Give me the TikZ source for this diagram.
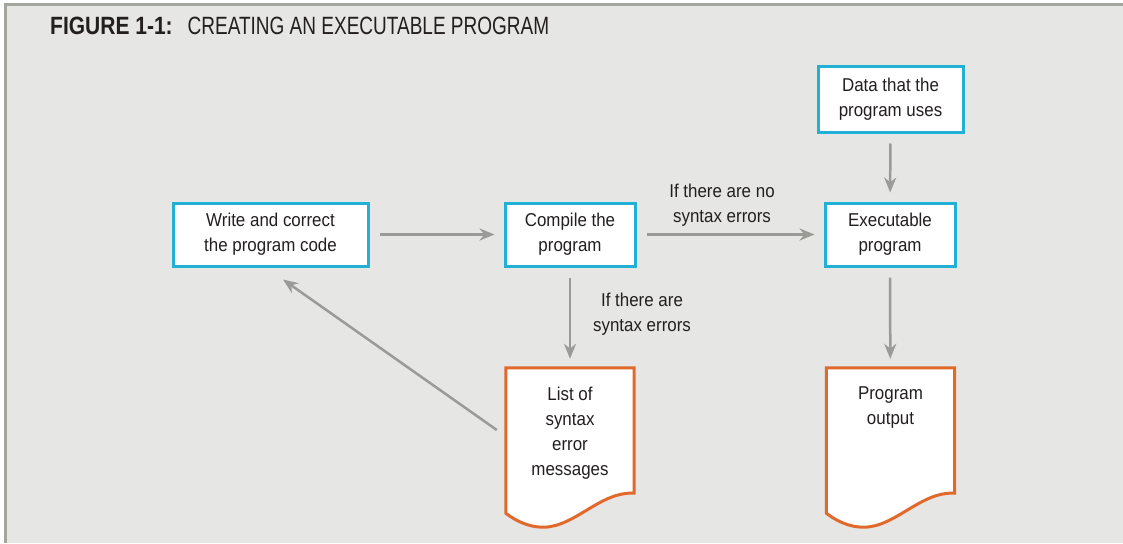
\documentclass[tikz,border=0pt]{standalone}
\usepackage{fontspec}
\setmainfont[FakeStretch=0.91]{Liberation Sans}
\newfontfamily\captionlight[FakeStretch=0.76]{Liberation Sans}
\newfontfamily\captionbold[FakeStretch=0.84]{Liberation Sans}
\usetikzlibrary{arrows.meta}

\definecolor{panelgray}{HTML}{E6E6E4}
\definecolor{framegray}{HTML}{A3A59F}
\definecolor{boxblue}{HTML}{22B1D4}
\definecolor{docorange}{HTML}{E0692B}
\definecolor{arrowgray}{HTML}{9A9A96}
\definecolor{inkdark}{HTML}{231F20}

\tikzstyle{stepbox}=[draw=boxblue,fill=white,line width=3pt,text=inkdark,align=center,minimum height=63pt,inner sep=0pt,font=\fontsize{18.6}{25}\selectfont]
\tikzstyle{docframe}=[minimum width=128pt,minimum height=159pt,inner sep=0pt]
\tikzstyle{docline}=[draw=docorange,fill=white,line width=3pt]
\tikzstyle{doctext}=[anchor=north,align=center,inner sep=0pt,text=inkdark,font=\fontsize{18.6}{25}\selectfont]
\tikzstyle{arclabel}=[align=center,inner sep=0pt,text=inkdark,font=\fontsize{18.6}{25}\selectfont]
\tikzstyle{flowarc}=[-{Stealth[length=15pt,width=12pt]},draw=arrowgray,line width=2.5pt,shorten <=10pt,shorten >=9pt]
\tikzstyle{docbottom}=[shift={(0,-34)}]

\begin{document}
\begin{tikzpicture}[x=1pt,y=-1pt]

\useasboundingbox (0,0) rectangle (1123,543);
\fill[white] (0,0) rectangle (1123,543);
\fill[panelgray] (5,5) rectangle (1123,543);
\draw[framegray,line width=3pt] (5,543) -- (5,5) -- (1123,5);

\node[anchor=base west,inner sep=0pt,text=inkdark,font=\fontsize{25}{30}\selectfont] (caption) at (50,35)
  {{\captionbold\bfseries FIGURE 1-1:}\hspace{15pt}{\captionlight CREATING AN EXECUTABLE PROGRAM}};

\node[stepbox,minimum width=195pt] (W) at (270.5,234.5) {Write and correct\\the program code};
\node[stepbox,minimum width=130pt] (C) at (570,234.5) {Compile the\\program};
\node[stepbox,minimum width=130pt] (E) at (890,234.5) {Executable\\program};
\node[stepbox,minimum width=145pt,minimum height=66pt] (D) at (890.5,99) {Data that the\\program uses};

\node[docframe] (L) at (570,447.5) {};
\node[docframe] (P) at (890.5,447.5) {};

\coordinate[docbottom] (LSE) at (L.south east);
\coordinate[shift={(0,-14)}] (LSW) at (L.south west);
\coordinate[shift={(-27,0)}] (LLOW) at (L.south);
\coordinate[docbottom] (PSE) at (P.south east);
\coordinate[shift={(0,-14)}] (PSW) at (P.south west);
\coordinate[shift={(-27,0)}] (PLOW) at (P.south);

\path[docline] (L.north west) -- (L.north east) -- (LSE)
  .. controls +(-34,-2) and +(32,0) .. (LLOW)
  .. controls +(-15,0) and +(9,7) .. (LSW) -- cycle;
\path[docline] (P.north west) -- (P.north east) -- (PSE)
  .. controls +(-34,-2) and +(32,0) .. (PLOW)
  .. controls +(-15,0) and +(9,7) .. (PSW) -- cycle;

\node[doctext,shift={(0,19)}] (LT) at (L.north) {List of\\syntax\\error\\messages};
\node[doctext,shift={(0,19)}] (PT) at (P.north) {Program\\output};

\node[arclabel] (noerr) at (722,205) {If there are no\\syntax errors};
\node[arclabel] (someerr) at (642,314) {If there are\\syntax errors};

\coordinate[shift={(-9,-17.5)}] (LBACK) at (L.west);
\coordinate[shift={(12.5,12)}] (WBACK) at (W.south);

\draw[flowarc] (W) -- (C);
\draw[flowarc] (C) -- (E);
\draw[flowarc] (D) -- (E);
\draw[flowarc] (C) -- (L);
\draw[flowarc] (E) -- (P);
\draw[flowarc,shorten <=0pt,shorten >=0pt] (LBACK) -- (WBACK);

\end{tikzpicture}
\end{document}
